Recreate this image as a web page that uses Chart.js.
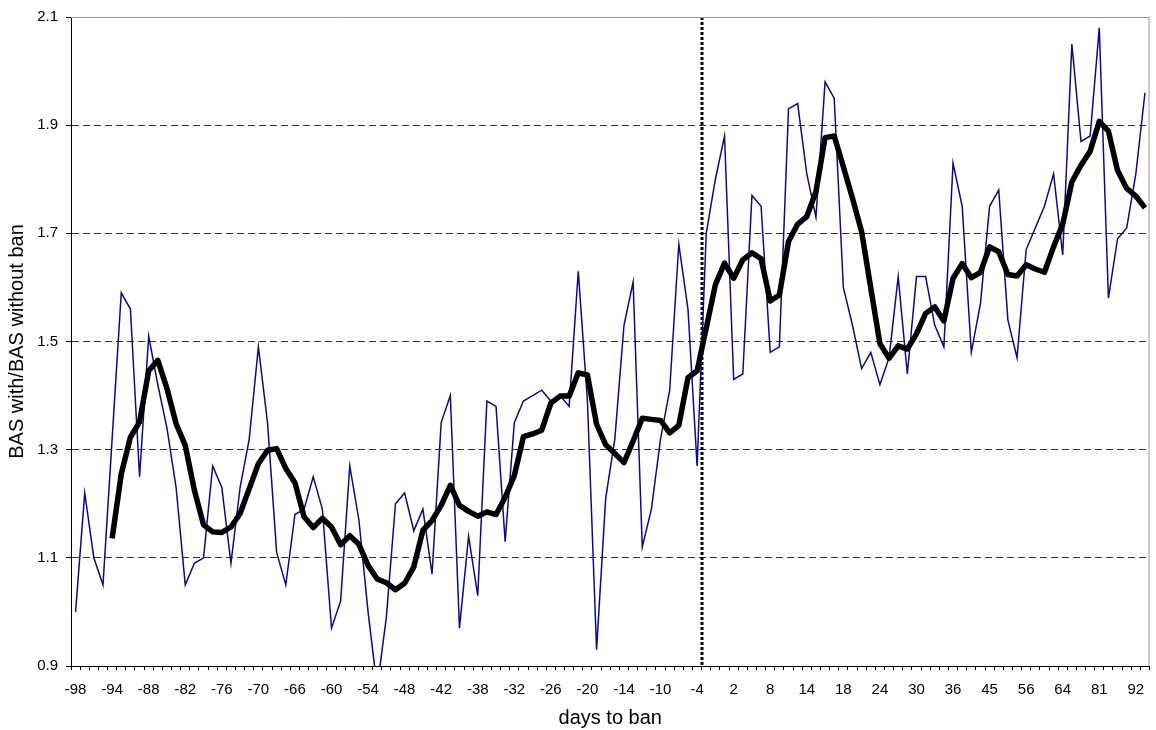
<!DOCTYPE html>
<html>
<head>
<meta charset="utf-8">
<script src="https://cdn.jsdelivr.net/npm/chart.js@4.4.0/dist/chart.umd.min.js"></script>
<style>
  html, body { margin: 0; padding: 0; background: #fff; }
  #grafico { display: block; }
</style>
</head>
<body>
<canvas id="grafico" width="1156" height="730"></canvas>
<script>
// etiquetas visibles del eje x (una cada 4 categorías)
const tickLabels = [-98, -94, -88, -82, -76, -70, -66, -60, -54, -48, -42, -38, -32, -26, -20,
  -14, -10, -4, 2, 8, 14, 18, 24, 30, 36, 45, 56, 64, 81, 92];
const labelEvery = 4;
const banIndex = 68; // categoría "-4", la línea punteada va justo después

const yTicks = [0.9, 1.1, 1.3, 1.5, 1.7, 1.9, 2.1];

// ratio diario
const ratio = [
  1.00, 1.22, 1.10, 1.05, 1.32, 1.59, 1.56, 1.25, 1.51, 1.42,
  1.34, 1.23, 1.05, 1.09, 1.10, 1.27, 1.23, 1.09, 1.23, 1.32,
  1.49, 1.35, 1.11, 1.05, 1.18, 1.19, 1.25, 1.19, 0.97, 1.02,
  1.27, 1.17, 1.00, 0.86, 0.99, 1.20, 1.22, 1.15, 1.19, 1.07,
  1.35, 1.40, 0.97, 1.14, 1.03, 1.39, 1.38, 1.13, 1.35, 1.39,
  1.40, 1.41, 1.39, 1.40, 1.38, 1.63, 1.39, 0.93, 1.21, 1.32,
  1.53, 1.61, 1.12, 1.19, 1.32, 1.41, 1.68, 1.56, 1.27, 1.70,
  1.80, 1.88, 1.43, 1.44, 1.77, 1.75, 1.48, 1.49, 1.93, 1.94,
  1.81, 1.73, 1.98, 1.95, 1.60, 1.53, 1.45, 1.48, 1.42, 1.47,
  1.62, 1.44, 1.62, 1.62, 1.53, 1.49, 1.83, 1.75, 1.48, 1.57,
  1.75, 1.78, 1.54, 1.47, 1.67, 1.71, 1.75, 1.81, 1.66, 2.05,
  1.87, 1.88, 2.08, 1.58, 1.69, 1.71, 1.81, 1.96
];

// media móvil
const media = [
  null, null, null, null, 1.136, 1.255, 1.323, 1.351, 1.446, 1.465,
  1.413, 1.348, 1.308, 1.225, 1.161, 1.148, 1.147, 1.157, 1.182, 1.228,
  1.274, 1.299, 1.302, 1.265, 1.239, 1.176, 1.156, 1.173, 1.157, 1.124,
  1.141, 1.125, 1.086, 1.061, 1.054, 1.041, 1.053, 1.083, 1.151, 1.169,
  1.197, 1.234, 1.197, 1.186, 1.177, 1.185, 1.180, 1.212, 1.252, 1.324,
  1.329, 1.336, 1.386, 1.399, 1.399, 1.442, 1.438, 1.347, 1.309, 1.293,
  1.276, 1.316, 1.358, 1.356, 1.354, 1.331, 1.345, 1.433, 1.446, 1.525,
  1.605, 1.645, 1.617, 1.651, 1.664, 1.653, 1.575, 1.586, 1.685, 1.717,
  1.731, 1.777, 1.877, 1.880, 1.823, 1.765, 1.703, 1.599, 1.496, 1.469,
  1.492, 1.486, 1.514, 1.552, 1.564, 1.538, 1.617, 1.644, 1.618, 1.628,
  1.675, 1.666, 1.624, 1.621, 1.642, 1.634, 1.628, 1.675, 1.717, 1.795,
  1.826, 1.852, 1.907, 1.889, 1.816, 1.783, 1.769, 1.747
];

const labels = ratio.map((v, i) => (i % labelEvery === 0 ? String(tickLabels[i / labelEvery] ?? "") : ""));

Chart.defaults.font.family = "'Liberation Sans', Arial, Helvetica, sans-serif";
Chart.defaults.font.size = 15;
Chart.defaults.color = "#000";

// marco gris arriba/derecha + línea punteada del ban
const extras = {
  id: "extras",
  beforeDatasetsDraw(chart) {
    const { ctx, chartArea: a, scales } = chart;
    const x = Math.round((scales.x.getPixelForValue(banIndex) + scales.x.getPixelForValue(banIndex + 1)) / 2);
    ctx.save();
    ctx.strokeStyle = "#000";
    ctx.lineWidth = 3;
    ctx.setLineDash([3, 2]);
    ctx.beginPath();
    ctx.moveTo(x, a.top);
    ctx.lineTo(x, a.bottom);
    ctx.stroke();
    ctx.restore();
  },
  afterDraw(chart) {
    const { ctx, chartArea: a } = chart;
    ctx.save();
    ctx.strokeStyle = "#999";
    ctx.lineWidth = 1;
    ctx.beginPath();
    ctx.moveTo(a.left, a.top + 0.5);
    ctx.lineTo(a.right - 0.5, a.top + 0.5);
    ctx.lineTo(a.right - 0.5, a.bottom);
    ctx.stroke();
    ctx.restore();
  },
};

const config = {
  type: "line",
  data: {
    labels,
    datasets: [
      {
        label: "media",
        data: media,
        borderColor: "#000",
        borderWidth: 5.5,
        borderJoinStyle: "round",
        pointRadius: 0,
        tension: 0,
        spanGaps: false,
      },
      {
        label: "ratio",
        data: ratio,
        borderColor: "#0a0a8c",
        borderWidth: 1.5,
        pointRadius: 0,
        tension: 0,
      },
    ],
  },
  options: {
    responsive: false,
    animation: false,
    devicePixelRatio: 1,
    layout: { padding: { left: 0, right: 5, top: 16, bottom: 0 } },
    plugins: { legend: { display: false }, tooltip: { enabled: false } },
    scales: {
      x: {
        type: "category",
        offset: true,
        afterFit: (s) => { s.height = 64; },
        grid: {
          offset: true,
          drawOnChartArea: false,
          drawTicks: true,
          tickLength: 4,
          tickColor: "#000",
        },
        border: { color: "#000", width: 1 },
        ticks: { autoSkip: false, maxRotation: 0, minRotation: 0, padding: 11 },
        title: {
          display: true,
          text: "days to ban",
          font: { size: 20 },
          padding: { top: 0, bottom: 0 },
        },
      },
      y: {
        min: 0.9,
        max: 2.1,
        afterFit: (s) => { s.width = 71; },
        afterBuildTicks: (s) => { s.ticks = yTicks.map((v) => ({ value: v })); },
        grid: {
          color: (c) => (c.tick && (c.tick.value <= 0.91 || c.tick.value >= 2.09) ? "rgba(0,0,0,0)" : "#333"),
          drawTicks: true,
          tickLength: 5,
          tickColor: "#000",
          tickBorderDash: [],
        },
        border: { color: "#000", width: 1, dash: [7, 4] },
        ticks: { padding: 8, callback: (v) => Number(v).toFixed(1) },
        title: {
          display: true,
          text: "BAS with/BAS without ban",
          font: { size: 20 },
          padding: { top: 5, bottom: 0 },
        },
      },
    },
  },
  plugins: [extras],
};

new Chart(document.getElementById("grafico"), config);
</script>
</body>
</html>
